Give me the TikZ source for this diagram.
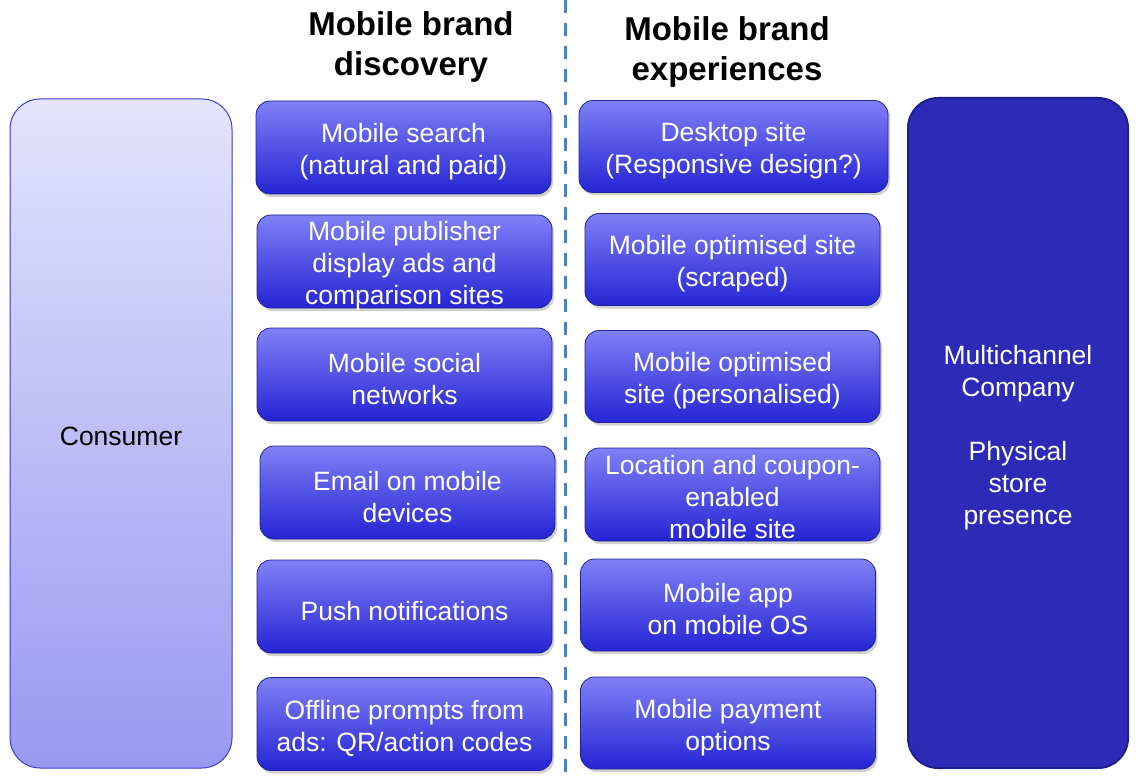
\documentclass[tikz,border=0pt]{standalone}
\usepackage{fontspec}
\setmainfont{Liberation Sans}
\usetikzlibrary{shadows}
\definecolor{boxtop}{RGB}{128,128,246}
\definecolor{boxbot}{RGB}{36,36,212}
\definecolor{boxline}{RGB}{34,34,150}
\definecolor{contop}{RGB}{228,228,252}
\definecolor{conbot}{RGB}{152,152,242}
\definecolor{conline}{RGB}{60,60,210}
\definecolor{mcfill}{RGB}{45,42,184}
\definecolor{mcline}{RGB}{30,30,140}
\definecolor{dashblue}{RGB}{79,129,189}
\tikzset{
  x=1pt, y=-1pt,
  boxtext/.style={text=white, align=center, inner sep=0pt,
    font=\fontsize{26.5}{32}\selectfont, yshift=-4.5pt},
  bluebox/.style={rounded corners=14pt, draw=boxline, line width=0.8pt,
    top color=boxtop, bottom color=boxbot, inner sep=0pt,
    drop shadow={shadow xshift=2pt, shadow yshift=-3pt, opacity=0.3, fill=black!60}},
  leftbox/.style={bluebox, minimum width=295pt, minimum height=93pt},
  rightbox/.style={bluebox, minimum width=295pt, minimum height=92pt},
  title/.style={align=center, font=\bfseries\fontsize{33}{40}\selectfont, inner sep=0pt},
}
\begin{document}
\begin{tikzpicture}
\useasboundingbox (0,0) rectangle (1141,778);
% divider
\coordinate (dtop) at (565,0);
\coordinate (dbot) at (565,778);
\draw[dashblue, line width=3pt, dash pattern=on 13pt off 10pt] (dtop) -- (dbot);
% titles
\node[title] (t1) at (411,46.5) {Mobile brand\\discovery};
\node[title] (t2) at (727,51.5) {Mobile brand\\experiences};
% consumer
\node[rounded corners=30pt, draw=conline, line width=1pt, top color=contop, bottom color=conbot,
  minimum width=222pt, minimum height=669pt, inner sep=0pt,
  label={[inner sep=0pt, font=\fontsize{26.5}{32}\selectfont, yshift=-3pt]center:Consumer}] (cons) at (121,433.5) {};
% multichannel
\node[rounded corners=30pt, draw=mcline, line width=2pt, fill=mcfill,
  minimum width=220pt, minimum height=670pt, inner sep=0pt,
  label={[boxtext, yshift=-0.5pt]center:{Multichannel\\Company\\[32pt]Physical\\store\\presence}}] (mc) at (1018,433) {};
% left column
\node[leftbox, label={[boxtext]center:{Mobile search\\(natural and paid)}}] (l1) at (403.5,147.5) {};
\node[leftbox, label={[boxtext]center:{Mobile publisher\\display ads and\\comparison sites}}] (l2) at (404.5,261.5) {};
\node[leftbox, label={[boxtext]center:{Mobile social\\networks}}] (l3) at (404.5,374.5) {};
\node[leftbox, label={[boxtext]center:{Email on mobile\\devices}}] (l4) at (407.5,492.5) {};
\node[leftbox, label={[boxtext]center:{Push notifications}}] (l5) at (404.5,606.5) {};
\node[leftbox, label={[boxtext]center:{Offline prompts from\\ads: QR/action codes}}] (l6) at (404.5,724) {};
% right column
\node[rightbox, minimum width=309pt, label={[boxtext]center:{Desktop site\\(Responsive design?)}}] (r1) at (733.5,146.5) {};
\node[rightbox, label={[boxtext]center:{Mobile optimised site\\(scraped)}}] (r2) at (732.5,259.5) {};
\node[rightbox, label={[boxtext]center:{Mobile optimised\\site (personalised)}}] (r3) at (732.5,376.5) {};
\node[rightbox, minimum height=93pt, label={[boxtext, yshift=1.5pt]center:{Location and coupon-\\enabled\\mobile site}}] (r4) at (732.5,494.5) {};
\node[rightbox, label={[boxtext]center:{Mobile app\\on mobile OS}}] (r5) at (728,605) {};
\node[rightbox, label={[boxtext]center:{Mobile payment\\options}}] (r6) at (728,723) {};
\end{tikzpicture}
\end{document}
